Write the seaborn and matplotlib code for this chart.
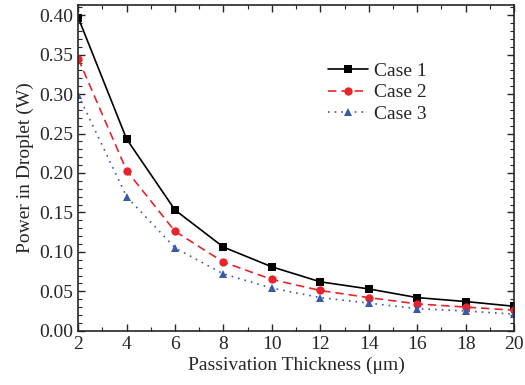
import numpy as np
import pandas as pd
import matplotlib
matplotlib.use('Agg')
import matplotlib.pyplot as plt
import seaborn as sns
from matplotlib.ticker import MultipleLocator

# data
thickness = [2, 4, 6, 8, 10, 12, 14, 16, 18, 20]
case1 = [0.397, 0.243, 0.153, 0.106, 0.081, 0.062, 0.053, 0.042, 0.037, 0.031]
case2 = [0.345, 0.203, 0.126, 0.087, 0.065, 0.051, 0.042, 0.034, 0.030, 0.026]
case3 = [0.299, 0.170, 0.105, 0.072, 0.054, 0.042, 0.035, 0.028, 0.025, 0.021]
labels = ['Case 1', 'Case 2', 'Case 3']

df = pd.DataFrame({
    'Thickness': thickness * 3,
    'Power': case1 + case2 + case3,
    'Case': np.repeat(labels, len(thickness)),
})

sns.set_style('ticks')
plt.rcParams['font.family'] = ['Liberation Serif', 'DejaVu Serif']

fig = plt.figure(figsize=(5.25, 3.85), dpi=100)
ax = fig.add_axes([0.149, 0.141, 0.830, 0.846])

palette = {'Case 1': 'black', 'Case 2': '#e8232b', 'Case 3': '#3a5aa8'}
markers = {'Case 1': 's', 'Case 2': 'o', 'Case 3': '^'}
dashes = {'Case 1': '', 'Case 2': (5, 3), 'Case 3': (1, 3)}

sns.lineplot(data=df, x='Thickness', y='Power', hue='Case', style='Case',
             palette=palette, markers=markers, dashes=dashes,
             markersize=6, markeredgewidth=0, linewidth=1.2, ax=ax)

ax.set_xlim(2, 20)
ax.set_ylim(0, 0.413)
ax.xaxis.set_major_locator(MultipleLocator(2))
ax.xaxis.set_minor_locator(MultipleLocator(1))
ax.yaxis.set_major_locator(MultipleLocator(0.05))
ax.yaxis.set_minor_locator(MultipleLocator(0.01))
ax.yaxis.set_major_formatter(plt.FormatStrFormatter('%.2f'))
ax.tick_params(which='both', direction='in', top=True, right=True, labelsize=14)
ax.tick_params(which='major', length=5, width=1)
ax.tick_params(which='minor', length=3, width=0.8)
for s in ax.spines.values():
    s.set_linewidth(1.2)

ax.set_xlabel('Passivation Thickness (μm)', fontsize=14, labelpad=3)
ax.set_ylabel('Power in Droplet (W)', fontsize=14, labelpad=4)

ax.legend(loc='upper left', bbox_to_anchor=(0.555, 0.848), frameon=False,
          fontsize=14, handlelength=2.05, handletextpad=0.3,
          labelspacing=0.2, borderaxespad=0)

fig.savefig('out.png', dpi=100)
